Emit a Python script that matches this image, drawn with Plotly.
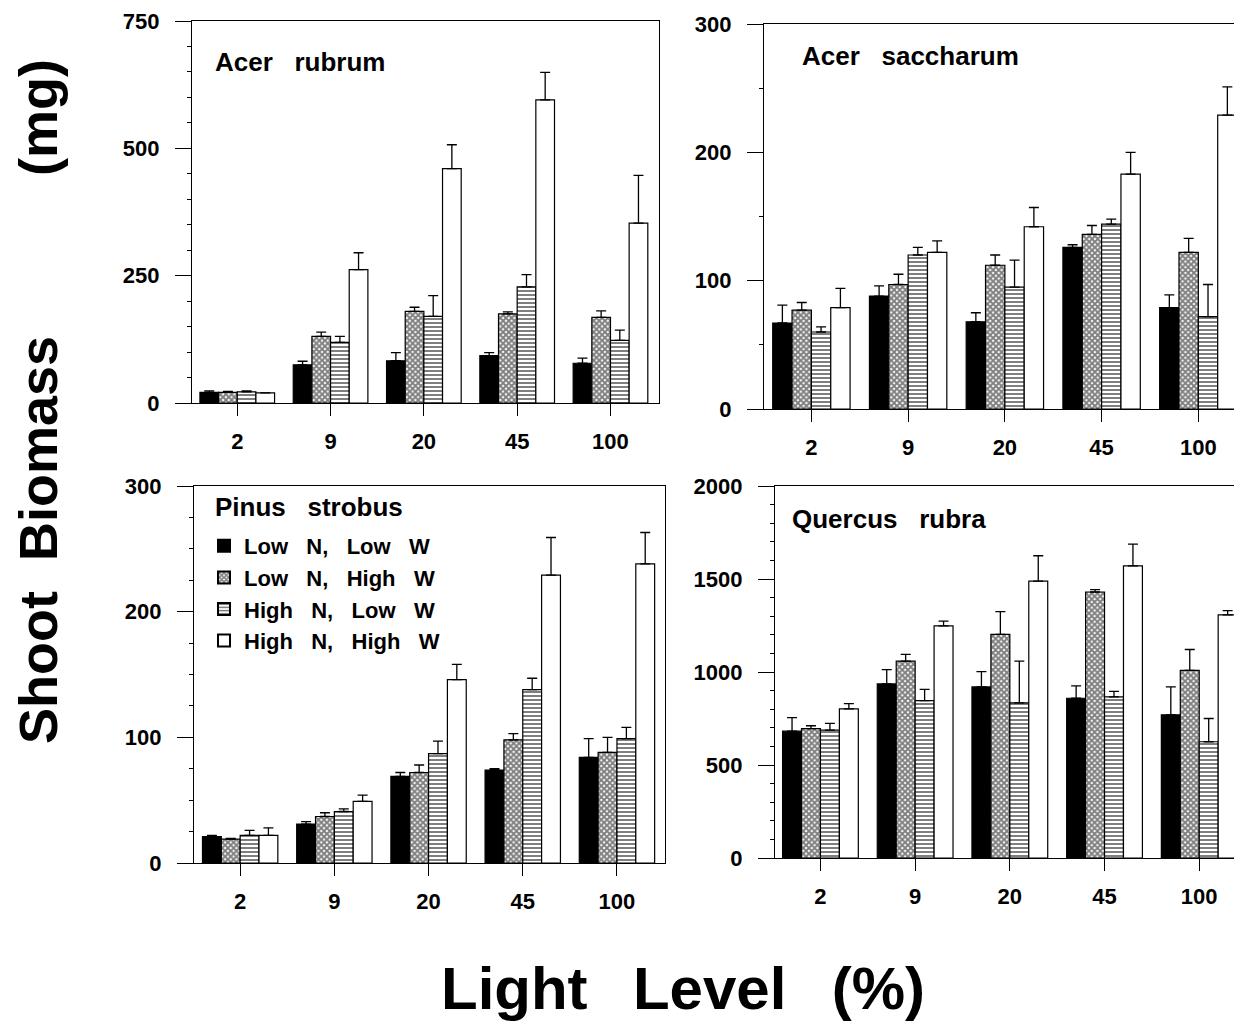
import plotly.graph_objects as go

# ---------------- data ----------------
light_levels = ["2", "9", "20", "45", "100"]
treatments = ["Low  N,  Low  W", "Low  N,  High  W", "High  N,  Low  W", "High  N,  High  W"]

# Acer rubrum
ar_vals = [[21, 75, 83, 93, 78],
           [21, 131, 180, 175, 168],
           [22, 119, 170, 228, 123],
           [20, 262, 460, 595, 353]]
ar_err = [[3, 7, 16, 6, 10],
          [2, 8, 8, 4, 13],
          [2, 12, 41, 24, 20],
          [0, 33, 47, 54, 94]]

# Acer saccharum
as_vals = [[67, 88, 68, 126, 79],
           [77, 97, 112, 136, 122],
           [60, 120, 95, 144, 72],
           [79, 122, 142, 183, 229]]
as_err = [[14, 8, 7, 2, 10],
          [6, 8, 8, 7, 11],
          [4, 6, 21, 4, 25],
          [15, 9, 15, 17, 22]]

# Pinus strobus
ps_vals = [[21, 31, 69, 74, 84],
           [19, 37, 72, 98, 88],
           [22, 41, 87, 138, 99],
           [22, 49, 146, 229, 238]]
ps_err = [[1, 2, 3, 1, 15],
          [0.5, 3, 6, 5, 12],
          [4, 2, 10, 9, 9],
          [6, 5, 12, 30, 25]]

# Quercus rubra
qr_vals = [[682, 936, 920, 859, 770],
           [696, 1059, 1202, 1430, 1009],
           [688, 846, 834, 866, 625],
           [802, 1248, 1489, 1571, 1307]]
qr_err = [[73, 77, 82, 66, 150],
          [15, 36, 123, 13, 112],
          [36, 61, 225, 30, 125],
          [28, 25, 136, 116, 23]]

panel_titles = ["Acer  rubrum", "Acer  saccharum", "Pinus  strobus", "Quercus  rubra"]
y_ranges = [[0, 750], [0, 300], [0, 300], [0, 2000]]
y_dticks = [250, 100, 100, 500]
y_minor = [50, 50, 25, 100]

# ---------------- styling ----------------
FONT = "Liberation Sans"
W, H = 1242, 1024
OFF = 8  # page body margin


def px_x(p):
    return (p - OFF) / W


def px_y(p):
    return 1 - (p - OFF) / H


NB = "\u00a0"

# panel pixel boxes (screen): (left, right, top, bottom)
boxes = [(192, 659, 21, 403), (764, 1238, 24, 409), (194, 665, 486, 863), (775, 1239, 486, 858)]
x_ranges = [[-0.485, 4.52], [-0.49, 4.41], [-0.49, 4.51], [-0.48, 4.42]]

patterns = [
    dict(color="black", pattern=dict(shape="")),
    dict(color="white", pattern=dict(shape="x", fgcolor="black", bgcolor="white", size=4, solidity=0.72)),
    dict(color="white", pattern=dict(shape="-", fgcolor="black", bgcolor="white", size=4, solidity=0.5)),
    dict(color="white", pattern=dict(shape="")),
]

fig = go.Figure()

datasets = [(ar_vals, ar_err), (as_vals, as_err), (ps_vals, ps_err), (qr_vals, qr_err)]

for p, (vals, errs) in enumerate(datasets):
    axn = "" if p == 0 else str(p + 1)
    for t in range(4):
        st = patterns[t]
        fig.add_trace(go.Bar(
            x=light_levels, y=vals[t],
            name=treatments[t].replace("  ", NB + NB + NB),
            xaxis="x" + axn, yaxis="y" + axn,
            marker=dict(color=st["color"], pattern=st["pattern"],
                        line=dict(color="black", width=1.2)),
            error_y=dict(type="data", symmetric=False, array=errs[t],
                         arrayminus=[0] * 5, color="black", thickness=1.3, width=5),
            showlegend=(p == 2),
            legendrank=t,
        ))

layout = dict(
    width=W, height=H,
    margin=dict(l=0, r=0, t=0, b=0, autoexpand=False),
    paper_bgcolor="white", plot_bgcolor="white",
    barmode="group", bargap=0.2, bargroupgap=0.0,
    font=dict(family=FONT, color="black"),
    legend=dict(x=px_x(204), y=px_y(525), xanchor="left", yanchor="top",
                bgcolor="rgba(0,0,0,0)", font=dict(family=FONT, size=22, color="black", weight="bold"),
                traceorder="normal", itemsizing="constant", tracegroupgap=0),
)

for p in range(4):
    axn = "" if p == 0 else str(p + 1)
    l, r, t, b = boxes[p]
    layout["xaxis" + axn] = dict(
        domain=[px_x(l), px_x(r)], anchor="y" + axn,
        range=x_ranges[p], type="category", automargin=False,
        showline=True, linecolor="black", linewidth=1.3, mirror=True,
        ticks="outside", ticklen=12, tickwidth=1.2, tickcolor="black",
        tickfont=dict(family=FONT, size=22, color="black", weight="bold"),
        ticklabelstandoff=6,
        showgrid=False, zeroline=False, fixedrange=True,
    )
    layout["yaxis" + axn] = dict(
        domain=[px_y(b), px_y(t)], anchor="x" + axn, automargin=False,
        range=y_ranges[p], dtick=y_dticks[p], tick0=0,
        showline=True, linecolor="black", linewidth=1.3, mirror=True,
        ticks="outside", ticklen=16, tickwidth=1.2, tickcolor="black",
        minor=dict(ticks="outside", ticklen=4, dtick=y_minor[p], tickcolor="black", tickwidth=1),
        tickfont=dict(family=FONT, size=22, color="black", weight="bold"),
        ticklabelstandoff=11,
        showgrid=False, zeroline=False, fixedrange=True,
    )

fig.update_layout(**layout)

title_pos = [(213, 62), (800, 56), (213, 507), (790, 519)]
for p in range(4):
    x0, y0 = title_pos[p]
    fig.add_annotation(text=panel_titles[p].replace("  ", NB + NB + NB), xref="paper", yref="paper",
                       x=px_x(x0), y=px_y(y0), xanchor="left", yanchor="middle",
                       showarrow=False, font=dict(family=FONT, size=26, color="black", weight="bold"))

# y-axis title (two pieces to reproduce the wide gap before "(mg)")
fig.add_annotation(text="Shoot" + NB + NB + "Biomass", xref="paper", yref="paper",
                   x=px_x(38), y=px_y(540), textangle=-90, xanchor="center", yanchor="middle",
                   showarrow=False, font=dict(family=FONT, size=54, color="black", weight="bold"))
fig.add_annotation(text="(mg)", xref="paper", yref="paper",
                   x=px_x(38), y=px_y(118), textangle=-90, xanchor="center", yanchor="middle",
                   showarrow=False, font=dict(family=FONT, size=54, color="black", weight="bold"))
fig.add_annotation(text="Light" + NB + NB + "\u2009Level" + NB + NB + "\u2009(%)", xref="paper", yref="paper",
                   x=px_x(683), y=px_y(988), xanchor="center", yanchor="middle",
                   showarrow=False, font=dict(family=FONT, size=60, color="black", weight="bold"))

fig.write_html("out.html")
